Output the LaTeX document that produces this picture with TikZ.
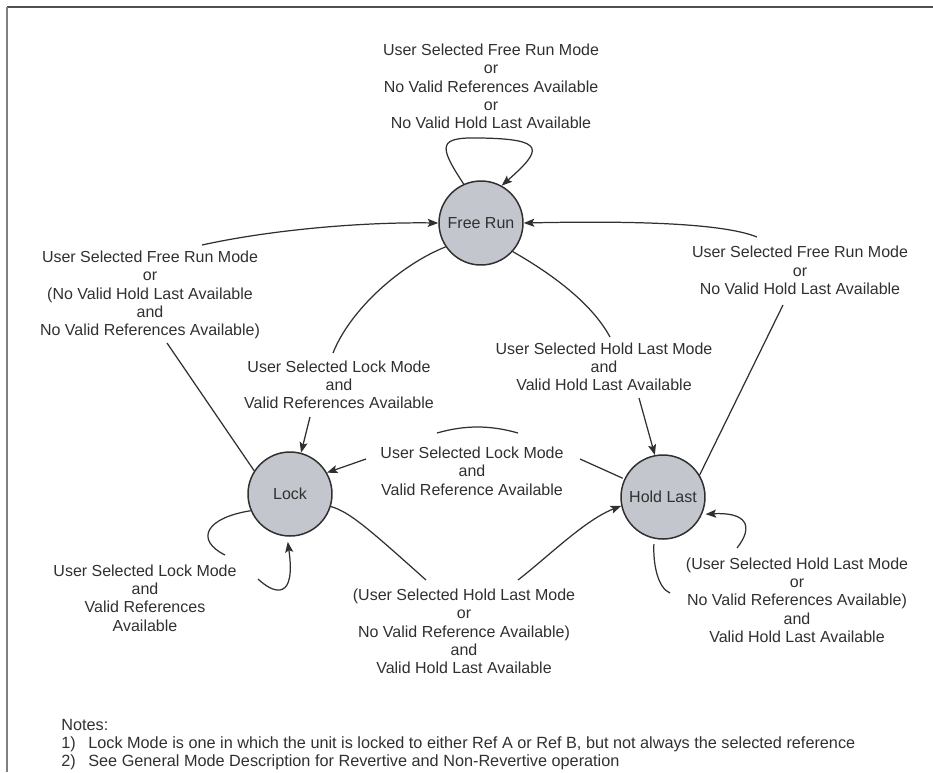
\documentclass[tikz,border=0pt]{standalone}
\usepackage{fontspec}
\setmainfont{Liberation Sans}
\usetikzlibrary{arrows.meta}
\definecolor{stategray}{HTML}{C4C6CE}
\definecolor{inkgray}{HTML}{303030}
\tikzset{
	state/.style={circle, draw=inkgray, line width=0.85pt, fill=stategray, minimum size=1.68cm, inner sep=0pt},
	cond/.style={align=center, inner sep=0pt},
	note/.style={anchor=base west, inner sep=0pt, font=\fontsize{9.25}{10.4}\selectfont},
	link/.style={inkgray, line width=0.7pt},
	trans/.style={link, -{Stealth[length=6pt, width=4.6pt, inset=1.2pt]}}
}
\begin{document}
\begin{tikzpicture}[x=0.02cm, y=-0.02cm]
		\tikzstyle{every node}=[font=\fontsize{9.1}{10.4}\selectfont, text=inkgray]
		\useasboundingbox (0,0) rectangle (933,772);
		% Draw frame
		\draw[inkgray!85, line width=1.1pt] (7,7) -- (933,7);
		\draw[gray, line width=1.1pt] (7,7) -- (7,772);

		% Draw states
		\node[state] (free) at (481,223) {Free Run};
		\node[state] (lock) at (290,494) {Lock};
		\node[state] (hold) at (663,497) {Hold Last};

		% Draw conditions
		\node[cond] (freeSelf) at (491,86.5) {User Selected Free Run Mode\\or\\No Valid References Available\\or\\No Valid Hold Last Available};
		\node[cond] (lockFree) at (150,295) {User Selected Free Run Mode\\or\\(No Valid Hold Last Available\\and\\No Valid References Available)};
		\node[cond] (holdFree) at (800,270.5) {User Selected Free Run Mode\\or\\No Valid Hold Last Available};
		\node[cond] (freeLock) at (339,385) {User Selected Lock Mode\\and\\Valid References Available};
		\node[cond] (freeHold) at (604,367) {User Selected Hold Last Mode\\and\\Valid Hold Last Available};
		\node[cond] (holdLock) at (472,471) {User Selected Lock Mode\\and\\Valid Reference Available};
		\node[cond] (lockSelf) at (145,598) {User Selected Lock Mode\\and\\Valid References\\Available};
		\node[cond] (lockHold) at (464,631.5) {(User Selected Hold Last Mode\\or\\No Valid Reference Available)\\and\\Valid Hold Last Available};
		\node[cond] (holdSelf) at (797,600) {(User Selected Hold Last Mode\\or\\No Valid References Available)\\and\\Valid Hold Last Available};

		% -----------------------------------------------------
		% Free Run to itself
		\draw[trans] (free.114) .. controls (438,145) and (438,137) .. (480,138)
			.. controls (547,139) and (542,150) .. (free.61);

		% Lock to Free Run
		\coordinate (lockFreeA) at (167,343);
		\coordinate (lockFreeB) at (202,245);
		\draw[link] (lock.147) -- (lockFreeA);
		\draw[trans] (lockFreeB) .. controls (270,230) and (360,222) .. (free.west);

		% Hold Last to Free Run
		\coordinate (holdFreeA) at (783,305);
		\coordinate (holdFreeB) at (757,237);
		\draw[link] (hold.31) -- (holdFreeA);
		\draw[trans] (holdFreeB) .. controls (720,222) and (620,221) .. (free.east);

		% Free Run to Lock
		\coordinate (freeLockA) at (333,353);
		\coordinate (freeLockB) at (310,417);
		\draw[link] (free.214) .. controls (400,265) and (350,310) .. (freeLockA);
		\draw[trans] (freeLockB) -- (lock.75);

		% Free Run to Hold Last
		\coordinate (freeHoldA) at (610,337);
		\coordinate (freeHoldB) at (639,398);
		\draw[link] (free.-42) .. controls (545,270) and (590,300) .. (freeHoldA);
		\draw[trans] (freeHoldB) -- (hold.101);

		% Hold Last to Lock
		\coordinate (holdLockA) at (580,459);
		\coordinate (holdLockB) at (518,433);
		\coordinate (holdLockC) at (437,433);
		\coordinate (holdLockD) at (366,459);
		\draw[link, shorten <=1pt] (hold.155) -- (holdLockA);
		\draw[link] (holdLockB) .. controls (490,425) and (465,425) .. (holdLockC);
		\draw[trans] (holdLockD) -- (lock.30);

		% Lock to Hold Last
		\coordinate (lockHoldA) at (426,580);
		\coordinate (lockHoldB) at (518,580);
		\draw[link] (lock.-17) .. controls (350,512) and (370,530) .. (lockHoldA);
		\draw[trans] (lockHoldB) .. controls (550,555) and (585,520) .. (hold.192);

		% Lock to itself
		\coordinate (lockSelfA) at (225,555);
		\coordinate (lockSelfB) at (258,579);
		\draw[link] (lock.203) .. controls (205,518) and (195,540) .. (lockSelfA);
		\draw[trans, shorten >=3pt] (lockSelfB) .. controls (275,595) and (296,600) .. (lock.266);

		% Hold Last to itself
		\coordinate (holdSelfA) at (670,593);
		\coordinate (holdSelfB) at (737,548);
		\draw[link, shorten <=3pt] (hold.258) .. controls (653,565) and (658,588) .. (holdSelfA);
		\draw[trans, shorten >=2pt] (holdSelfB) .. controls (755,525) and (745,512) .. (hold.-24);

		% Notes
		\node[note] (notesHead) at (61,730) {Notes:};
		\node[note] (noteOne) at (61,748) {\makebox[0.54cm][l]{1)}Lock Mode is one in which the unit is locked to either Ref A or Ref B, but not always the selected reference};
		\node[note] (noteTwo) at (61,766) {\makebox[0.54cm][l]{2)}See General Mode Description for Revertive and Non-Revertive operation};
\end{tikzpicture}
\end{document}
